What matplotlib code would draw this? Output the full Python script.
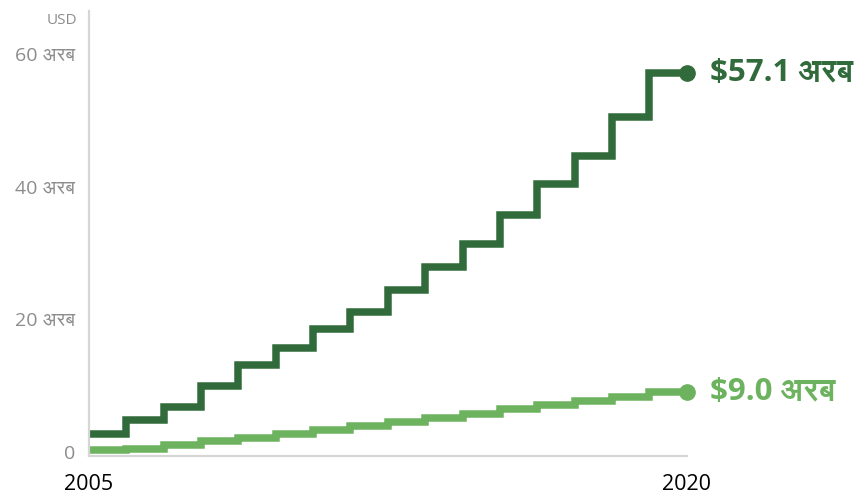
import matplotlib
matplotlib.use("Agg")
import matplotlib.pyplot as plt
import numpy as np
from matplotlib import font_manager
from matplotlib.ft2font import FT2Font

# ---- data -------------------------------------------------------------
years = list(range(2005, 2021))
upper_series = [2.7, 4.85, 6.76, 10.03, 13.19, 15.75, 18.5, 21.06,
                24.4, 27.9, 31.4, 35.7, 40.4, 44.7, 50.5, 57.1]
lower_series = [0.25, 0.45, 1.1, 1.61, 2.16, 2.72, 3.27, 3.87,
                4.5, 5.13, 5.8, 6.48, 7.04, 7.64, 8.26, 9.0]
y_ticks = [0, 20, 40, 60]
y_tick_labels = ["0", "20 अरब", "40 अरब", "60 अरब"]
x_tick_labels = ["2005", "2020"]
end_labels = ["$57.1 अरब", "$9.0 अरब"]
unit_label = "USD"

DARK = "#316b3b"
LIGHT = "#6db35f"
GRID_GREY = "#d6d6d6"
TICK_GREY = "#8c8c8c"


def find_devanagari_family():
    """Return the name of an installed family that covers Devanagari."""
    probe = ord("अ")
    best = None
    for entry in font_manager.fontManager.ttflist:
        try:
            font = FT2Font(entry.fname)
            if probe in font.get_charmap():
                if best is None or "Sans" in entry.name:
                    best = entry.name
                    if "Sans" in entry.name:
                        break
        except Exception:
            continue
    return best


deva = find_devanagari_family()
families = ["Open Sans"] + ([deva] if deva else []) + ["DejaVu Sans"]
plt.rcParams["font.family"] = families

fig = plt.figure(figsize=(8.61, 4.96), dpi=100)
ax = fig.add_axes([89 / 861, 40 / 496, (686.7 - 89) / 861, (456 - 11) / 496])

edges = np.arange(len(years) + 1)
ymin, ymax = -0.6, 66.5

for values, color in ((upper_series, DARK), (lower_series, LIGHT)):
    st = ax.stairs(values, edges, color=color, linewidth=5.4,
                   baseline=None)
    st.set_joinstyle("miter")
    st.set_capstyle("butt")
    ax.plot(edges[-1], values[-1], "o", color=color, markersize=11,
            clip_on=False, zorder=5)

for values, color, text in ((upper_series, DARK, end_labels[0]),
                            (lower_series, LIGHT, end_labels[1])):
    ax.annotate(text, xy=(edges[-1], values[-1]), xytext=(17, 0),
                textcoords="offset points", ha="left", va="center",
                fontsize=22.5, fontweight="bold", fontstretch="condensed",
                color=color, annotation_clip=False)

ax.set_xlim(edges[0], edges[-1])
ax.set_ylim(ymin, ymax)

ax.set_yticks(y_ticks)
ax.set_yticklabels(y_tick_labels, color=TICK_GREY, fontsize=14)
ax.set_xticks([edges[0], edges[-1]])
ax.set_xticklabels(x_tick_labels, color="black", fontsize=15.5)
ax.tick_params(axis="y", length=0, pad=10)
ax.tick_params(axis="x", length=0, pad=13)

for side in ("top", "right"):
    ax.spines[side].set_visible(False)
for side in ("left", "bottom"):
    ax.spines[side].set_color(GRID_GREY)
    ax.spines[side].set_linewidth(1.6)

fig.text(77 / 861, 1 - 20 / 496, unit_label, ha="right", va="center",
         color=TICK_GREY, fontsize=11)

fig.savefig("out.png", dpi=100)
